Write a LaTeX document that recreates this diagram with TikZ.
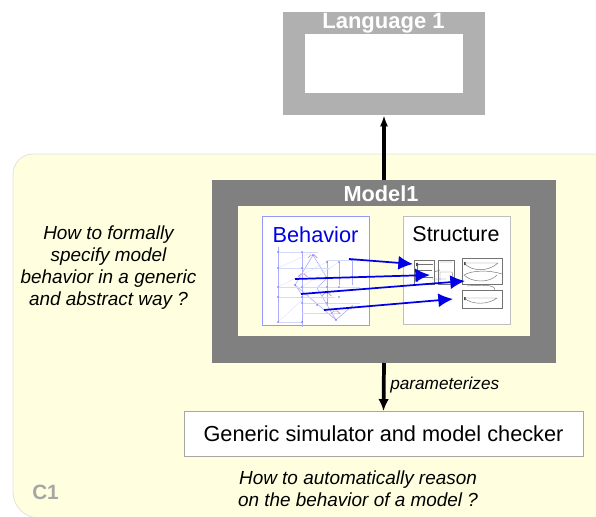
\documentclass[tikz,border=0pt]{standalone}
\usepackage{fontspec}
\setmainfont{Liberation Sans}
\usetikzlibrary{arrows.meta}
\definecolor{cream}{HTML}{FFFFE0}
\definecolor{creamline}{HTML}{E2E2DA}
\definecolor{langgrey}{HTML}{B0B0B0}
\definecolor{modelgrey}{HTML}{808080}
\definecolor{cgrey}{HTML}{A6A6A6}
\definecolor{thumbblue}{HTML}{D4DAFA}
\definecolor{pureblue}{HTML}{0000E6}
\tikzset{
  region/.style={fill=cream,draw=creamline,line width=0.6pt},
  boxnode/.style={draw=none,anchor=north west,inner sep=0pt,outer sep=0pt},
  qtext/.style={font=\fontsize{14.2pt}{16.6pt}\selectfont\itshape,align=center,inner sep=0pt},
  title/.style={font=\bfseries\fontsize{16.3pt}{17pt}\selectfont,text=white,inner sep=0pt},
  paneltext/.style={font=\fontsize{16.3pt}{18pt}\selectfont,inner sep=0pt},
  bigarrow/.style={black,line width=2.8pt,-{Latex[length=9pt,width=8pt]}},
  uparrow/.style={black,line width=2.4pt,-{Latex[length=8.5pt,width=6pt]}},
  blarrow/.style={pureblue,line width=1.3pt,-{Latex[length=11pt,width=10.5pt]}},
  wire/.style={thumbblue,line width=0.3pt},
  wiredark/.style={thumbblue!55!blue!60!white,line width=0.45pt},
  dot/.style={circle,fill=blue!60,inner sep=0pt,minimum size=1.2pt},
  sbox/.style={draw=black!55,line width=0.45pt},
  sline/.style={black!55,line width=0.35pt},
}
\begin{document}
\begin{tikzpicture}[x=0.75pt,y=-0.75pt]
\useasboundingbox (0,0) rectangle (596,517);
\begin{scope}
\clip (0,0) rectangle (596,517);
\draw[region] (610,154) -- (33,154) .. controls (22,154) and (13,163) .. (13,174) -- (13,492) .. controls (13,506.3) and (24.7,518) .. (39,518) -- (610,518) -- cycle;
\end{scope}
% Language 1
\node[boxnode,fill=langgrey,minimum width=151.5pt,minimum height=77.25pt] (lang) at (283,12) {};
\node[title,font=\bfseries\fontsize{16.5pt}{17pt}\selectfont] (langt) at (383.5,23.5) {Language 1};
\node[boxnode,fill=white,minimum width=118.5pt,minimum height=44pt] (langin) at (305,34) {};
% Model 1
\node[boxnode,fill=modelgrey,minimum width=258pt,minimum height=137.25pt] (model) at (212,180) {};
\node[boxnode,fill=cream,minimum width=219pt,minimum height=97.5pt] (modelin) at (238,206) {};
\node[title] (modeln) at (381,194) {Model1};
% Behavior panel
\node[boxnode,fill=white,draw=thumbblue!70!blue,line width=0.7pt,minimum width=80.25pt,minimum height=81.75pt] (behbox) at (262,216) {};
\node[paneltext,text=pureblue] (beh) at (315.5,234.5) {Behavior};
% Behavior thumbnail
\draw[wiredark] (278,247) -- (278,322) (302,253) -- (302,327) (327,260) -- (327,305) (339,262) -- (339,285) (352,260) -- (352,285);
\draw[wiredark] (313,255) -- (327,278) -- (317,288) -- (336,320) -- (353,305);
\draw[wiredark] (313,255) -- (295,285) -- (336,320);
\draw[wiredark] (295,285) -- (303,296);
\foreach \y/\a/\b in {252/278/318,260/327/365,268/278/330,287/278/360,297/278/335,303/302/360,313/302/340,322/278/302}{\draw[wire] (\a,\y) -- (\b,\y);}
\draw[wire,line width=0.2pt] (278,268) -- (313,252) (278,287) -- (327,262) (278,322) -- (302,300) (302,287) -- (339,262);
\foreach \x/\y in {278/252,278/268,278/287,278/297,278/322,302/252,302/268,302/287,302/297,302/322,313/255,327/262,339/262,352/260,327/287,339/287,302/303,327/303,339/297,336/320,317/305,295/285}{\node[dot] at (\x,\y) {};}
\draw[violet!45,line width=0.45pt] (308,258) arc[start angle=200,end angle=340,radius=5];
\draw[violet!45,line width=0.45pt] (322,296) arc[start angle=200,end angle=340,radius=5];
\draw[violet!45,line width=0.45pt] (331,314) arc[start angle=200,end angle=340,radius=5];
\draw[violet!45,line width=0.45pt] (298,277) arc[start angle=200,end angle=340,radius=5];
% Structure panel
\node[boxnode,fill=white,draw=black!25,line width=0.7pt,minimum width=80.25pt,minimum height=81pt] (strbox) at (403,216) {};
\node[paneltext,font=\fontsize{16.1pt}{18pt}\selectfont] (str) at (456,234.5) {Structure};
% Structure thumbnail
\draw[sbox] (414,260) rectangle (434,284);
\draw[sbox] (438,260) rectangle (454,284);
\draw[sbox] (462,258) rectangle (502,284);
\draw[sbox] (462,290) rectangle (502.5,308);
\draw[sline] (417,264) -- (433,264) (417,264) -- (417,282) (417,270) -- (432,270) (417,277) -- (433,277);
\draw[sline] (440,262) -- (452,262) (440,272) -- (452,272) (440,272) -- (440,282) (452,272) -- (454,282) (434,272) -- (440,270) (432,279) -- (446,279);
\draw[sline] (464,263) -- (498,263) (464,263) .. controls (472,272) and (488,272) .. (498,263);
\draw[sline] (464,275) .. controls (472,270) and (490,270) .. (502,274) (464,275) .. controls (472,283) and (490,283) .. (497,275);
\draw[sline] (464,298) -- (497,298) (464,298) .. controls (472,305) and (488,305) .. (497,298);
\draw[sline] (467,286) .. controls (480,285) and (495,284) .. (495,290);
\fill[black!70] (416,263) rectangle (418,266) (464,262) rectangle (465.5,265) (464,297) rectangle (465.5,300);
\coordinate (s1) at (413,264);
\coordinate (s2) at (430,275);
\coordinate (s3) at (465,281);
\coordinate (s4) at (453,299);
\coordinate (b1) at (349,259);
\coordinate (b2) at (295,279);
\coordinate (b3) at (301,294);
\coordinate (b4) at (324,310);
\draw[blarrow] (b1) -- (s1);
\draw[blarrow] (b2) -- (s2);
\draw[blarrow] (b3) -- (s3);
\draw[blarrow] (b4) -- (s4);
% Simulator box
\node[draw=black!35,fill=white,line width=0.6pt,minimum width=299.25pt,minimum height=33.4pt,inner sep=0pt,font=\fontsize{16.3pt}{18pt}\selectfont] (sim) at (383.5,433.7) {Generic simulator and model checker};
% Arrows
\draw[uparrow] (model.north) -- (lang.south);
\draw[bigarrow] (model.south) -- (sim.north);
\node[anchor=west,font=\fontsize{12.9pt}{14pt}\selectfont\itshape,inner sep=0pt] (par) at (390,385) {parameterizes};
% Questions
\node[qtext] (q1) at (108.5,267.5) {How to formally\\specify model\\behavior in a generic\\and abstract way ?};
\node[qtext] (q2) at (358,488.5) {How to automatically reason\\on the behavior of a model ?};
\node[font=\bfseries\fontsize{15.5pt}{16pt}\selectfont,text=cgrey,inner sep=0pt] (c1) at (45.5,492) {C1};
\end{tikzpicture}
\end{document}
